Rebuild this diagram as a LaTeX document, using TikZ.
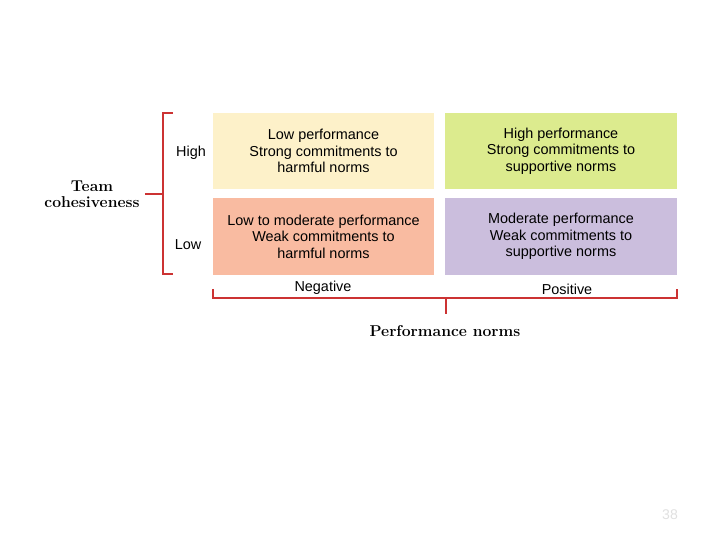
\documentclass[tikz,border=0pt]{standalone}
\usepackage{fontspec}
\newfontfamily\cellfont{Liberation Sans}
\definecolor{NORMRED}{HTML}{CC3333}
\definecolor{CELLYEL}{HTML}{FDF1C9}
\definecolor{CELLGRN}{HTML}{DCEB8E}
\definecolor{CELLSAL}{HTML}{F9BBA1}
\definecolor{CELLLAV}{HTML}{CBBEDD}
\usetikzlibrary{calc,positioning}

\begin{document}
\begin{tikzpicture}[x=0.03cm, y=-0.03cm,
  cell/.style={rectangle, inner sep=0pt, minimum width=6.63cm, minimum height=2.28cm,
    align=center, font=\cellfont\fontsize{12.3}{14}\selectfont},
  widecell/.style={cell, minimum width=6.96cm},
  axlab/.style={inner sep=0pt, font=\cellfont\fontsize{12.3}{14}\selectfont},
  axtitle/.style={inner sep=0pt, align=center, font=\bfseries\fontsize{13.4}{14}\selectfont},
  brk/.style={draw=NORMRED, line width=1.6pt}
]
\useasboundingbox (0,0) rectangle (720,540);

\node[cell, fill=CELLYEL] (hineg) at (323.5,151) {Low performance\\Strong commitments to\\harmful norms};
\node[widecell, fill=CELLGRN] (hipos) at (561,151) {High performance\\Strong commitments to\\supportive norms};
\node[cell, fill=CELLSAL] (loneg) at (323.5,236.5) {Low to moderate performance\\Weak commitments to\\harmful norms};
\node[widecell, fill=CELLLAV] (lopos) at (561,236.5) {Moderate performance\\Weak commitments to\\supportive norms};

% cohesiveness axis
\node[axlab] (high) at (191,153) {High};
\node[axlab] (low)  at (188,245) {Low};
\node[axtitle] (cohes) at (92,194) {Team\\cohesiveness};
\coordinate (ltop) at (173,113);
\coordinate (lbot) at (173,274);
\coordinate (lmid) at (163,194);
\draw[brk] (ltop) -- (163,113) -- (163,274) -- (lbot);
\draw[brk] (cohes.east) ++(5,0) -- (lmid);

% norms axis
\node[axlab] (neg) at (323,288) {Negative};
\node[axlab] (pos) at (567,289) {Positive};
\node[axtitle] (perf) at (445,331) {Performance norms};
\coordinate (bleft)  at (213,289);
\coordinate (bright) at (677,289);
\coordinate (bmid)   at (446,298);
\draw[brk] (bleft) -- (213,298) -- (677,298) -- (bright);
\draw[brk] (bmid) -- (446,314);

\node[font=\cellfont\fontsize{12}{14}\selectfont, text=black!12] (pgno) at (670,515) {38};
\end{tikzpicture}
\end{document}
